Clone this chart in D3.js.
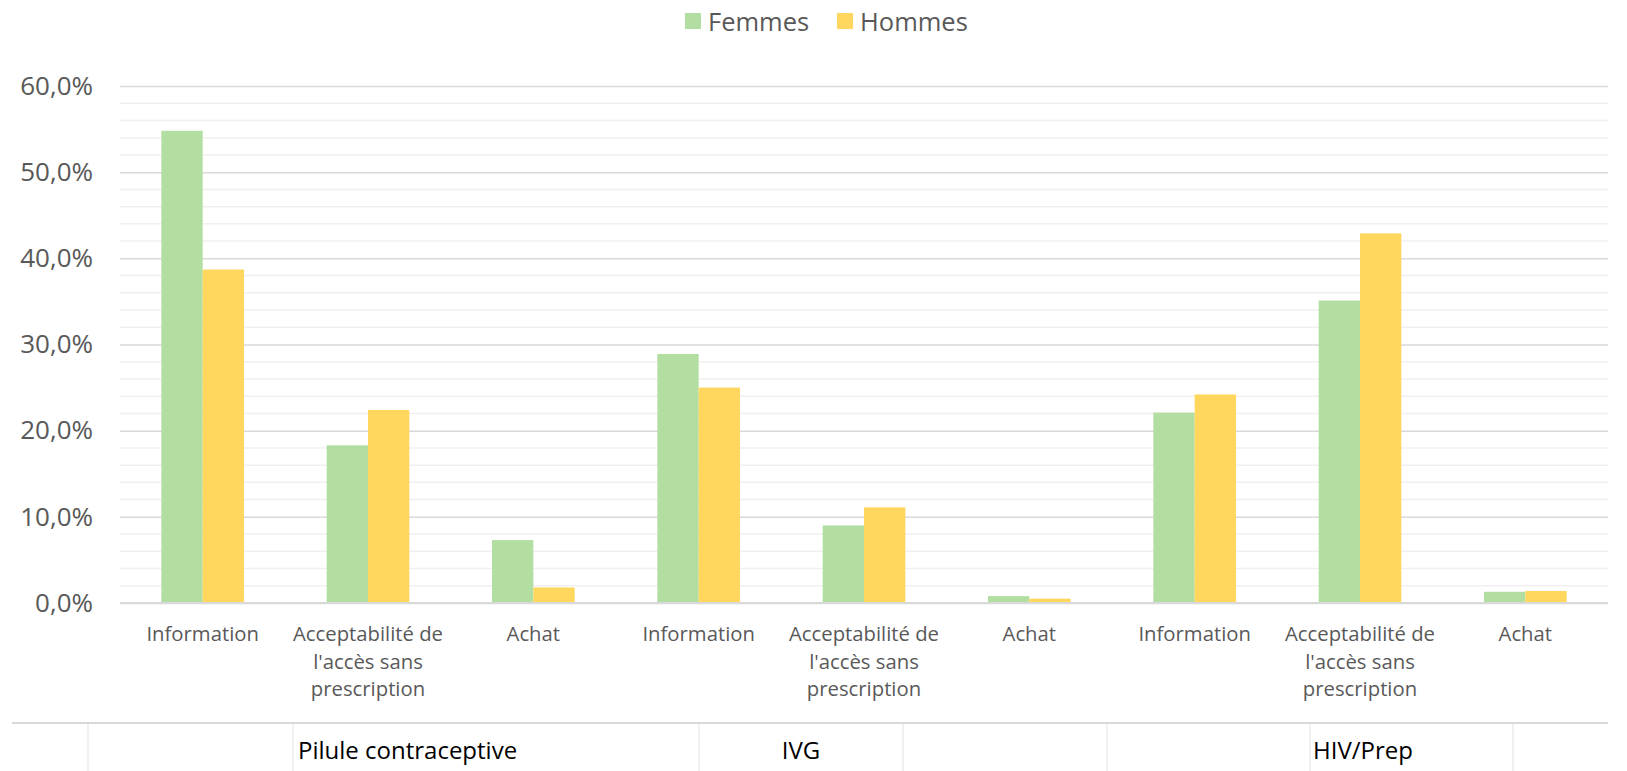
<!DOCTYPE html>
<html>
<head>
<meta charset="utf-8">
<script src="https://cdn.jsdelivr.net/npm/d3@7"></script>
<style>
  html, body { margin: 0; padding: 0; background: #fff; }
  svg { display: block; }
</style>
</head>
<body>
<svg id="chart" width="1627" height="771"></svg>
<script>
// ---- data ----
const categories = [
  "Information", "Acceptabilité de l'accès sans prescription", "Achat",
  "Information", "Acceptabilité de l'accès sans prescription", "Achat",
  "Information", "Acceptabilité de l'accès sans prescription", "Achat"
];
const categoryLines = [
  ["Information"], ["Acceptabilité de", "l'accès sans", "prescription"], ["Achat"],
  ["Information"], ["Acceptabilité de", "l'accès sans", "prescription"], ["Achat"],
  ["Information"], ["Acceptabilité de", "l'accès sans", "prescription"], ["Achat"]
];
const seriesNames = ["Femmes", "Hommes"];
const femmes = [54.8, 18.3, 7.3, 28.9, 9.0, 0.8, 22.1, 35.1, 1.3];
const hommes = [38.7, 22.4, 1.8, 25.0, 11.1, 0.5, 24.2, 42.9, 1.4];
const groupLabels = ["Pilule contraceptive", "IVG", "HIV/Prep"];
const yTicks = [0, 10, 20, 30, 40, 50, 60];

const colors = { Femmes: "#b2dea2", Hommes: "#ffd75e" };

// ---- layout ----
const svg = d3.select("#chart");
const pLeft = 120, pRight = 1608, pTop = 86, pBottom = 603;

const x = d3.scaleBand().domain(d3.range(categories.length)).range([pLeft, pRight])
  .paddingInner(0.5).paddingOuter(0.25);
const xs = d3.scaleBand().domain(seriesNames).range([0, x.bandwidth()]);
const y = d3.scaleLinear().domain([0, 60]).range([pBottom, pTop]);

// minor gridlines (every 2%)
const minor = d3.range(0, 61, 2).filter(v => v % 10 !== 0);
svg.append("g").selectAll("line").data(minor).join("line")
  .attr("x1", pLeft).attr("x2", pRight)
  .attr("y1", d => y(d)).attr("y2", d => y(d))
  .attr("stroke", "#f0f0f0").attr("stroke-width", 1.5);

// major gridlines via axis
const yAxis = d3.axisLeft(y).tickValues(yTicks)
  .tickSize(-(pRight - pLeft))
  .tickFormat(d => d3.format(".1f")(d).replace(".", ",") + "%");
const gy = svg.append("g").attr("transform", `translate(${pLeft},0)`).call(yAxis);
gy.select(".domain").remove();
gy.selectAll(".tick line").attr("stroke", "#d9d9d9").attr("stroke-width", 1.5);
gy.selectAll(".tick text")
  .attr("x", -27)
  .attr("fill", "#595959")
  .style("font-family", "'Open Sans', sans-serif")
  .style("font-size", "26px");

// bars
const rows = categories.map((c, i) => ({ i, Femmes: femmes[i], Hommes: hommes[i] }));
const gBars = svg.append("g");
rows.forEach(r => {
  seriesNames.forEach(s => {
    gBars.append("rect")
      .attr("x", x(r.i) + xs(s))
      .attr("width", xs.bandwidth())
      .attr("y", y(r[s]))
      .attr("height", y(0) - y(r[s]))
      .attr("fill", colors[s]);
  });
});

// baseline
svg.append("line").attr("x1", pLeft).attr("x2", pRight)
  .attr("y1", y(0)).attr("y2", y(0))
  .attr("stroke", "#d9d9d9").attr("stroke-width", 2);

// category labels
const gCat = svg.append("g")
  .style("font-family", "'Open Sans', sans-serif")
  .style("font-size", "20.3px")
  .attr("fill", "#595959")
  .attr("text-anchor", "middle");
categoryLines.forEach((lines, i) => {
  const t = gCat.append("text").attr("x", x(i) + x.bandwidth() / 2).attr("y", 641);
  lines.forEach((ln, k) => {
    t.append("tspan").attr("x", x(i) + x.bandwidth() / 2).attr("y", 641 + k * 27.5).text(ln);
  });
});

// group table lines
const sepX = [88, 293, 699, 903, 1107, 1310, 1513];
svg.append("line").attr("x1", 12).attr("x2", pRight)
  .attr("y1", 723).attr("y2", 723)
  .attr("stroke", "#d9d9d9").attr("stroke-width", 2);
svg.append("g").selectAll("line").data(sepX).join("line")
  .attr("x1", d => d).attr("x2", d => d)
  .attr("y1", 724).attr("y2", 771)
  .attr("stroke", "#e6e6e6").attr("stroke-width", 1.2);

// group labels
const gGrp = svg.append("g")
  .style("font-family", "'Open Sans', sans-serif")
  .style("font-size", "24px")
  .style("font-weight", "500")
  .attr("fill", "#000");
gGrp.append("text").attr("x", 298).attr("y", 759).text(groupLabels[0]);
gGrp.append("text").attr("x", 801).attr("y", 759).attr("text-anchor", "middle").text(groupLabels[1]);
gGrp.append("text").attr("x", 1313).attr("y", 759).text(groupLabels[2]);

// legend
const legend = svg.append("g")
  .style("font-family", "'Open Sans', sans-serif")
  .style("font-size", "25.5px")
  .attr("fill", "#595959");
const legX = [685, 837];
seriesNames.forEach((s, k) => {
  legend.append("rect").attr("x", legX[k]).attr("y", 13).attr("width", 16).attr("height", 16)
    .attr("fill", colors[s]);
  legend.append("text").attr("x", legX[k] + 23).attr("y", 30.5).text(s);
});
</script>
</body>
</html>
